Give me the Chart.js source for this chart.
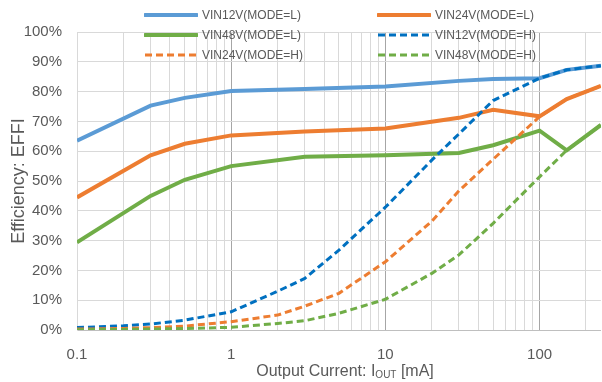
<!DOCTYPE html>
<html>
<head>
<meta charset="utf-8">
<script src="https://cdn.jsdelivr.net/npm/chart.js@4"></script>
<style>
    body { margin: 0; background: #fff; }
    #wrap { position: relative; width: 602px; height: 382px; }
    #legend div.item { position: absolute; height: 16px; display: flex; align-items: center;
        font: 12px "Liberation Sans", Arial, sans-serif; color: #595959; }
    #legend svg { margin-right: 4px; }
    #xtitle { position: absolute; left: 145px; width: 400px; top: 362px; text-align: center;
        font: 16px "Liberation Sans", Arial, sans-serif; color: #595959; white-space: nowrap; }
    #xtitle sub { font-size: 10px; vertical-align: -2px; }
</style>
</head>
<body>
<div id="wrap">
    <canvas id="myChart" width="602" height="382"></canvas>
    <div id="legend"></div>
    <div id="xtitle">Output Current: I<sub>OUT</sub> [mA]</div>
</div>
<script>
/////////////////////////////////////////////data//////////////////////////////////////////////

// output current points (mA)
const currentsL = [0.1, 0.3, 0.5, 1, 3, 10, 30, 50, 100, 150, 250];
const currentsH = [0.1, 0.2, 0.3, 0.5, 1, 2, 3, 5, 10, 20, 30, 50, 100, 150, 250];

// efficiency (%)
const vin12L = [63.5, 75.3, 77.9, 80.2, 80.9, 81.7, 83.6, 84.2, 84.5, 87.3, 88.7];
const vin24L = [44.5, 58.6, 62.5, 65.3, 66.6, 67.6, 71.2, 73.9, 71.7, 77.5, 81.9];
const vin48L = [29.4, 45.0, 50.4, 55.0, 58.1, 58.6, 59.4, 62.0, 66.9, 60.3, 68.8];
const vin12H = [0.8, 1.4, 2.0, 3.3, 6.1, 13.0, 17.3, 26.8, 41.2, 57.0, 65.8, 77.0, 84.5, 87.3, 88.7];
const vin24H = [0.3, 0.5, 0.8, 1.3, 2.8, 5.0, 8.0, 12.3, 22.9, 36.5, 46.7, 57.3, 71.6, 77.5, 81.9];
const vin48H = [0.1, 0.2, 0.3, 0.5, 0.9, 2.2, 3.1, 5.6, 10.3, 19.0, 25.2, 35.8, 51.4, 60.3, 68.8];

const seriesNames = ["VIN12V(MODE=L)", "VIN24V(MODE=L)", "VIN48V(MODE=L)",
                     "VIN12V(MODE=H)", "VIN24V(MODE=H)", "VIN48V(MODE=H)"];

// axis ticks
const xTickLabels = [0.1, 1, 10, 100];
const xGridValues = [0.1, 0.2, 0.3, 0.4, 0.5, 0.6, 0.7, 0.8, 0.9,
                     1, 2, 3, 4, 5, 6, 7, 8, 9,
                     10, 20, 30, 40, 50, 60, 70, 80, 90,
                     100, 200];
const yTicks = [0, 10, 20, 30, 40, 50, 60, 70, 80, 90, 100];

/////////////////////////////////////////////data//////////////////////////////////////////////


const styles = [
    { color: "#5B9BD5", dash: [] },
    { color: "#ED7D31", dash: [] },
    { color: "#70AD47", dash: [] },
    { color: "#0070C0", dash: [7, 4] },
    { color: "#ED7D31", dash: [7, 4] },
    { color: "#70AD47", dash: [7, 4] }
];

const seriesValues = [vin12L, vin24L, vin48L, vin12H, vin24H, vin48H];

function toPoints(xs, ys) {
    return xs.map((x, i) => ({ x: x, y: ys[i] }));
}

const datasets = seriesValues.map((vals, i) => ({
    label: seriesNames[i],
    data: toPoints(i < 3 ? currentsL : currentsH, vals),
    borderColor: styles[i].color,
    backgroundColor: styles[i].color,
    borderDash: styles[i].dash,
    borderWidth: i < 3 ? 4 : 3,
    pointRadius: 0,
    tension: 0,
    order: 6 - i // later series on top, like the original
}));

const tickFont = { family: "'Liberation Sans', Arial, sans-serif", size: 15 };

new Chart(document.getElementById("myChart").getContext("2d"), {
    type: "line",
    data: { datasets: datasets },
    options: {
        responsive: false,
        animation: false,
        layout: { padding: { top: 32, right: 1, left: 0, bottom: 0 } },
        plugins: { legend: { display: false }, tooltip: { enabled: false } },
        scales: {
            x: {
                type: "logarithmic",
                min: 0.1,
                max: 250,
                afterBuildTicks: scale => {
                    scale.ticks = xGridValues.map(v => ({ value: v }));
                },
                afterFit: scale => { scale.height = 52; },
                ticks: {
                    autoSkip: false,
                    maxRotation: 0,
                    padding: 16,
                    color: "#595959",
                    font: tickFont,
                    callback: value => xTickLabels.includes(value) ? String(value) : ""
                },
                grid: {
                    drawTicks: false,
                    color: ctx => (ctx.tick && xTickLabels.includes(ctx.tick.value) && ctx.tick.value !== 0.1)
                        ? "#A6A6A6" : "#D9D9D9",
                    lineWidth: 1
                },
                border: { color: "#BFBFBF", width: 1 }
            },
            y: {
                min: 0,
                max: 100,
                afterBuildTicks: scale => {
                    scale.ticks = yTicks.map(v => ({ value: v }));
                },
                afterFit: scale => { scale.width = 77; },
                ticks: {
                    padding: 15,
                    color: "#595959",
                    font: tickFont,
                    callback: value => value + "%"
                },
                grid: { drawTicks: false, color: "#D9D9D9" },
                border: { color: "#D9D9D9" },
                title: {
                    display: true,
                    text: "Efficiency: EFFI",
                    color: "#595959",
                    font: { family: "'Liberation Sans', Arial, sans-serif", size: 18 },
                    padding: { top: 8, bottom: 0 }
                }
            }
        }
    }
});


/////////////////////////////////////////////legend//////////////////////////////////////////////

// two columns, three rows, drawn over the plot like the original
const legendCols = [144, 377];
const legendRows = [7, 27, 47];
const legend = document.getElementById("legend");

seriesNames.forEach((name, i) => {
    const item = document.createElement("div");
    item.className = "item";
    item.style.left = legendCols[i % 2] + "px";
    item.style.top = legendRows[Math.floor(i / 2)] + "px";

    const st = styles[i];
    const w = i < 3 ? 4 : 3;
    item.innerHTML =
        '<svg width="54" height="8"><line x1="1" y1="4" x2="53" y2="4" stroke="' + st.color +
        '" stroke-width="' + w + '" stroke-dasharray="' + (st.dash.length ? st.dash.join(",") : "none") +
        '" stroke-linecap="' + (st.dash.length ? "butt" : "round") + '"/></svg>' +
        '<span>' + name + '</span>';
    legend.appendChild(item);
});
</script>
</body>
</html>
